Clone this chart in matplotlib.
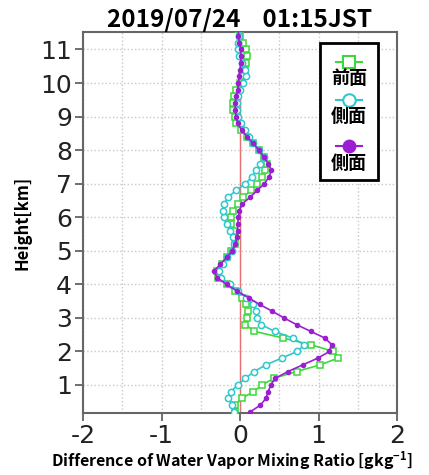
import matplotlib
matplotlib.use("Agg")
import matplotlib.pyplot as plt
from matplotlib.lines import Line2D
from matplotlib.patches import Rectangle
from matplotlib.ticker import MultipleLocator

plt.rcParams['font.family'] = ['Noto Sans CJK JP', 'DejaVu Sans']

# heights [km]
heights = [0.2, 0.4, 0.6, 0.8, 1.0, 1.2, 1.4, 1.6, 1.8, 2.0,
           2.2, 2.4, 2.6, 2.8, 3.0, 3.2, 3.4, 3.6, 3.8, 4.0,
           4.2, 4.4, 4.6, 4.8, 5.0, 5.2, 5.4, 5.6, 5.8, 6.0,
           6.2, 6.4, 6.6, 6.8, 7.0, 7.2, 7.4, 7.6, 7.8, 8.0,
           8.2, 8.4, 8.6, 8.8, 9.0, 9.2, 9.4, 9.6, 9.8, 10.0,
           10.2, 10.4, 10.6, 10.8, 11.0, 11.2, 11.4, 11.6]

# 前面 (green squares)
front = [-0.06, -0.06, 0.02, 0.17, 0.28, 0.43, 0.72, 1.02, 1.25, 1.19,
         0.90, 0.55, 0.18, 0.07, 0.09, 0.10, 0.08, 0.02, -0.06, -0.17,
         -0.28, -0.29, -0.23, -0.17, -0.11, -0.07, -0.07, -0.08, -0.12, -0.12,
         -0.09, -0.03, 0.04, 0.14, 0.22, 0.28, 0.32, 0.35, 0.31, 0.24,
         0.17, 0.09, 0.01, -0.05, -0.07, -0.09, -0.09, -0.08, -0.05, 0.00,
         0.03, 0.07, 0.08, 0.09, 0.08, 0.04, 0.00, -0.02]

# 側面 (cyan circles)
side1 = [-0.08, -0.10, -0.15, -0.12, -0.03, 0.07, 0.18, 0.33, 0.53, 0.73,
         0.82, 0.67, 0.44, 0.27, 0.22, 0.21, 0.16, 0.08, -0.02, -0.13,
         -0.24, -0.27, -0.22, -0.16, -0.10, -0.08, -0.09, -0.13, -0.17, -0.21,
         -0.22, -0.20, -0.15, -0.05, 0.07, 0.15, 0.21, 0.26, 0.30, 0.24,
         0.17, 0.12, 0.07, 0.01, -0.03, -0.04, -0.04, -0.03, 0.00, 0.04,
         0.08, 0.06, 0.02, -0.01, -0.03, -0.03, -0.01, -0.01]

# 側面 (purple dots)
side2 = [0.13, 0.26, 0.33, 0.36, 0.39, 0.45, 0.61, 0.80, 0.99, 1.14,
         1.17, 1.08, 0.90, 0.72, 0.56, 0.41, 0.25, 0.11, -0.04, -0.17,
         -0.29, -0.33, -0.25, -0.17, -0.10, -0.06, -0.04, -0.03, -0.03, -0.02,
         -0.01, 0.03, 0.13, 0.22, 0.31, 0.37, 0.40, 0.36, 0.30, 0.24,
         0.17, 0.09, 0.02, -0.03, -0.05, -0.06, -0.06, -0.05, -0.03, -0.02,
         -0.01, 0.00, 0.01, 0.01, 0.01, -0.01, -0.02, -0.02]

labels = ['前面', '側面', '側面']
green = '#3cd83c'
cyan = '#2fc8cc'
purple = '#9b1fd0'

fig = plt.figure(figsize=(4.29, 4.75), dpi=100)
ax = fig.add_axes([0.1935, 0.1305, 0.7319, 0.8021])

# grid
ax.xaxis.set_major_locator(MultipleLocator(1))
ax.xaxis.set_minor_locator(MultipleLocator(0.5))
ax.yaxis.set_major_locator(MultipleLocator(1))
ax.grid(True, which='both', axis='x', color='#c8c8c8', linestyle=':', linewidth=1.0)
ax.grid(True, which='major', axis='y', color='#c8c8c8', linestyle=':', linewidth=1.0)
ax.set_axisbelow(True)

ax.axvline(0, color='#e87070', linewidth=1.0, zorder=1)

ax.plot(front, heights, color=green, marker='s', markersize=4.5, markerfacecolor='white',
        markeredgecolor=green, markeredgewidth=1.1, linewidth=1.2, zorder=3)
ax.plot(side1, heights, color=cyan, marker='o', markersize=4.5, markerfacecolor='white',
        markeredgecolor=cyan, markeredgewidth=1.1, linewidth=1.2, zorder=3)
ax.plot(side2, heights, color=purple, marker='o', markersize=3, markerfacecolor=purple,
        markeredgecolor=purple, linewidth=1.2, zorder=3)

ax.set_xlim(-2, 2)
ax.set_ylim(0.165, 11.52)
ax.set_xticks([-2, -1, 0, 1, 2])
ax.set_xticklabels(['-2', '-1', '0', '1', '2'])
ax.set_yticks(range(1, 12))
ax.tick_params(which='major', direction='out', length=6, width=1.2, color='#555555',
               labelsize=18, pad=2)
ax.tick_params(which='minor', length=0)
for t in ax.get_xticklabels() + ax.get_yticklabels():
    t.set_family('DejaVu Sans')
    t.set_color('#222222')
for s in ax.spines.values():
    s.set_color('#666666')
    s.set_linewidth(1.5)

ax.set_title('2019/07/24    01:15JST', fontsize=17.5, fontweight='bold', pad=3)
ax.set_xlabel('Difference of Water Vapor Mixing Ratio [gkg$^{\\mathregular{-1}}$]',
              fontsize=11.5, fontweight='bold', labelpad=0)
ax.xaxis.set_label_coords(0.475, -0.095)
ax.set_ylabel('Height[km]', fontsize=12, fontweight='bold', labelpad=6)

# legend box (handle above label)
ax.add_patch(Rectangle((0.755, 0.612), 0.184, 0.359, transform=ax.transAxes,
                       facecolor='white', edgecolor='black', linewidth=2, zorder=5))
styles = [dict(color=green, marker='s', markersize=9, markerfacecolor='white',
               markeredgewidth=1.5),
          dict(color=cyan, marker='o', markersize=9, markerfacecolor='white',
               markeredgewidth=1.5),
          dict(color=purple, marker='o', markersize=9, markerfacecolor=purple)]
line_y = [0.921, 0.822, 0.701]
text_y = [0.878, 0.779, 0.655]
for st, lab, ly, ty in zip(styles, labels, line_y, text_y):
    ax.add_line(Line2D([0.806, 0.889], [ly, ly], transform=ax.transAxes,
                       linewidth=1.5, color=st['color'], zorder=6))
    ax.add_line(Line2D([0.8475], [ly], transform=ax.transAxes, linestyle='none',
                       zorder=7, **st))
    ax.text(0.8475, ty, lab, transform=ax.transAxes, ha='center', va='center',
            fontsize=13, fontweight='bold', zorder=7)

fig.savefig('out.png', dpi=100)
